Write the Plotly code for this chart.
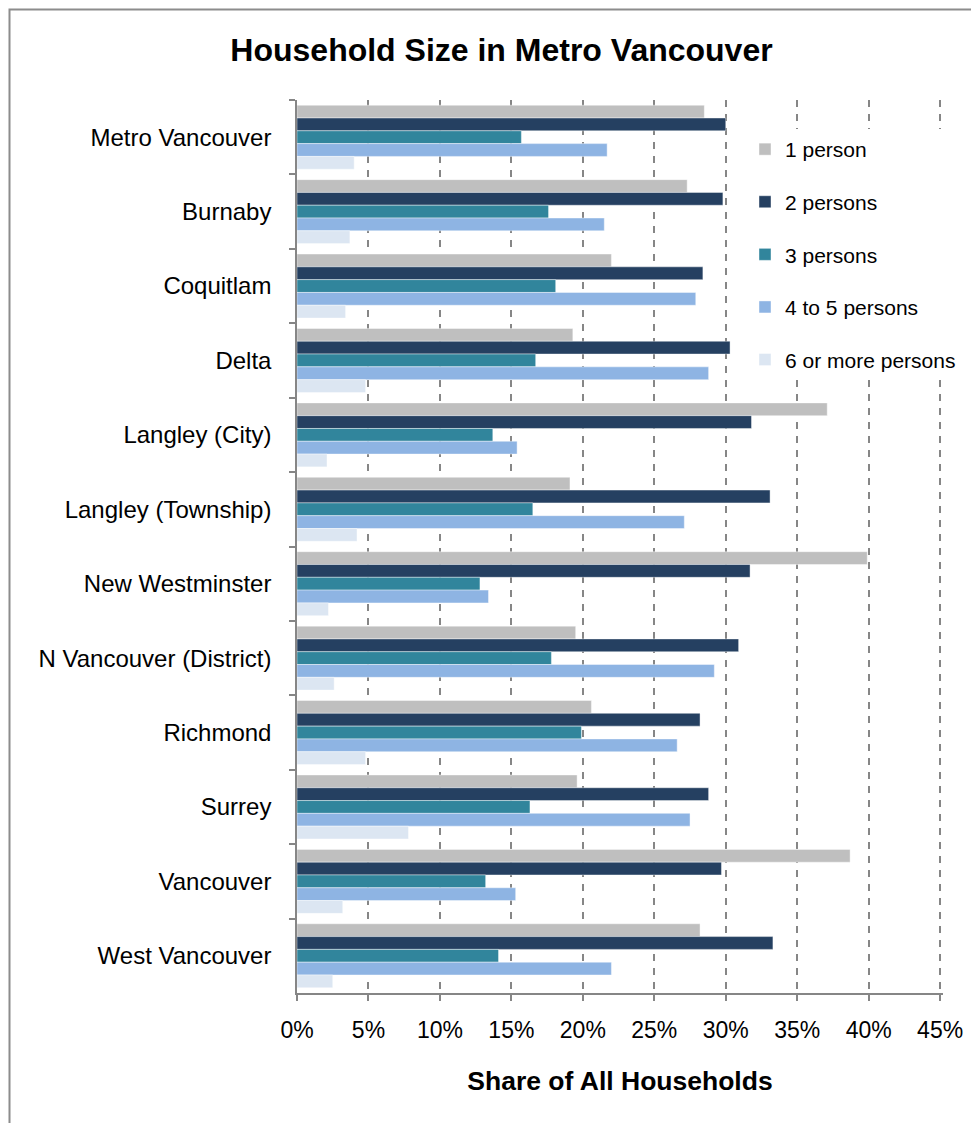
import plotly.graph_objects as go

categories = ["Metro Vancouver", "Burnaby", "Coquitlam", "Delta", "Langley (City)",
              "Langley (Township)", "New Westminster", "N Vancouver (District)",
              "Richmond", "Surrey", "Vancouver", "West Vancouver"]

series_names = ["1 person", "2 persons", "3 persons", "4 to 5 persons", "6 or more persons"]

one_person = [28.5, 27.3, 22.0, 19.3, 37.1, 19.1, 39.9, 19.5, 20.6, 19.6, 38.7, 28.2]
two_persons = [30.0, 29.8, 28.4, 30.3, 31.8, 33.1, 31.7, 30.9, 28.2, 28.8, 29.7, 33.3]
three_persons = [15.7, 17.6, 18.1, 16.7, 13.7, 16.5, 12.8, 17.8, 19.9, 16.3, 13.2, 14.1]
four_five_persons = [21.7, 21.5, 27.9, 28.8, 15.4, 27.1, 13.4, 29.2, 26.6, 27.5, 15.3, 22.0]
six_plus_persons = [4.0, 3.7, 3.4, 4.8, 2.1, 4.2, 2.2, 2.6, 4.8, 7.8, 3.2, 2.5]

colors = ["#BFBFBF", "#254061", "#31859C", "#8EB4E3", "#DCE6F2"]
tick_vals = [0, 5, 10, 15, 20, 25, 30, 35, 40, 45]
tick_text = [f"{v}%" for v in tick_vals]

FONT = "Arial, 'Liberation Sans', sans-serif"

fig = go.Figure()
for name, vals, col in zip(series_names,
                           [one_person, two_persons, three_persons, four_five_persons, six_plus_persons],
                           colors):
    fig.add_trace(go.Bar(
        y=categories, x=vals, name=name, orientation="h",
        marker=dict(color=col, line=dict(color="rgba(255,255,255,0.7)", width=0.6)),
        legendgroup=name,
    ))

# The page body has an 8px margin; work in page pixels and convert.
OFF = 8
W, H = 979 - OFF, 1123 - OFF
L, R, T, B = 297 - OFF, 943 - OFF, 100 - OFF, 993 - OFF
X_MAX = 45.2

def px_x(p):  # page px -> paper x
    return (p - OFF - L) / (R - L)

def px_y(p):  # page px -> paper y
    return (B - (p - OFF)) / (B - T)

fig.update_layout(
    width=W, height=H,
    margin=dict(l=L, r=W - R, t=T, b=H - B, pad=0),
    paper_bgcolor="white", plot_bgcolor="white",
    font=dict(family=FONT, color="black"),
    barmode="group", bargap=0.14, bargroupgap=0.0,
    title=dict(text="<b>Household Size in Metro Vancouver</b>",
               font=dict(size=32, family=FONT, color="black"),
               x=(501.5 - OFF) / W, xanchor="center", xref="container",
               y=1 - (50 - OFF) / H, yanchor="middle", yref="container"),
    legend=dict(x=px_x(745), xanchor="left", y=px_y(129), yanchor="top",
                font=dict(size=21, family=FONT, color="black"),
                bgcolor="white", tracegroupgap=22.3,
                traceorder="grouped", itemwidth=30),
    xaxis=dict(range=[0, X_MAX], tickmode="array", tickvals=tick_vals, ticktext=tick_text,
               showgrid=True, gridcolor="#868686", gridwidth=1.5, griddash="7px,7px",
               zeroline=False, showline=True, linecolor="#868686", linewidth=1.5,
               ticks="outside", ticklen=6, tickcolor="#868686", tickwidth=1.5,
               tickfont=dict(size=23, family=FONT, color="black"),
               ticklabelstandoff=10,
               title=dict(text="<b>Share of All Households</b>",
                          font=dict(size=26.5, family=FONT, color="black"),
                          standoff=29),
               fixedrange=True),
    yaxis=dict(categoryorder="array", categoryarray=categories, autorange="reversed",
               showgrid=False, zeroline=False, showline=True,
               linecolor="#868686", linewidth=1.5,
               ticks="outside", ticklen=6, tickcolor="#868686", tickwidth=1.5,
               tickson="boundaries",
               tickfont=dict(size=24, family=FONT, color="black"),
               ticklabelstandoff=19, fixedrange=True),
    shapes=[dict(type="rect", xref="paper", yref="paper",
                 x0=px_x(9.5), x1=px_x(995), y0=px_y(1140), y1=px_y(9.5),
                 line=dict(color="#8C8C8C", width=2), fillcolor="rgba(0,0,0,0)",
                 layer="below")],
)

fig.write_html("out.html")
